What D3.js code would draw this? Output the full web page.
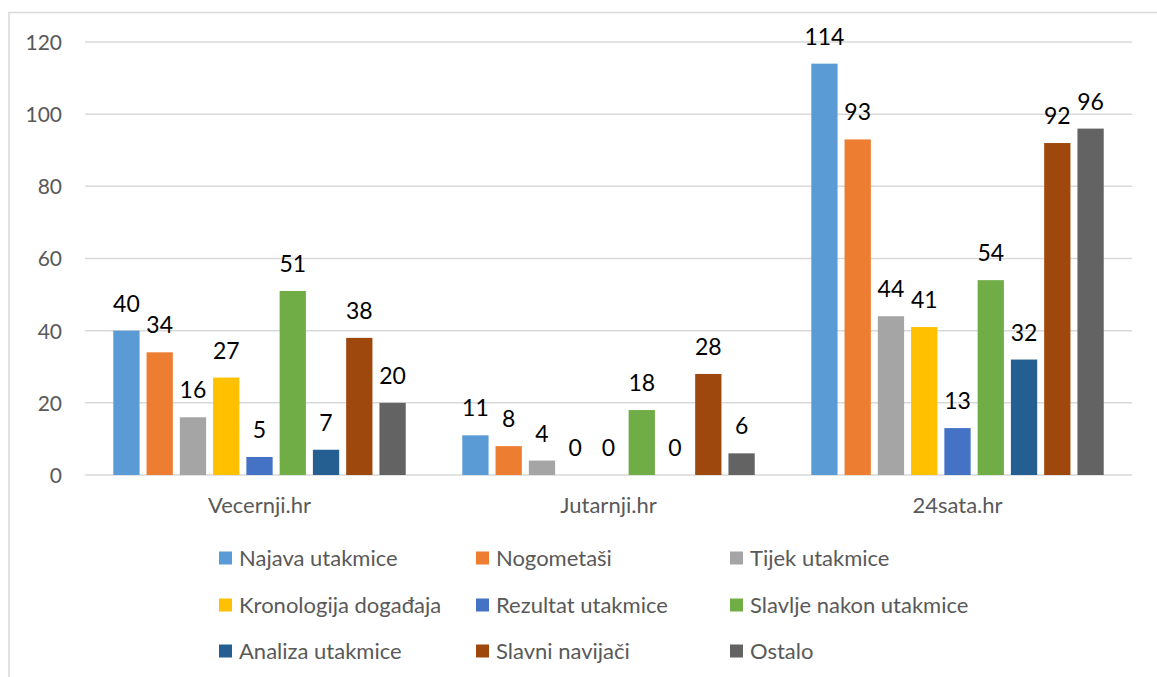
<!DOCTYPE html>
<html>
<head>
<meta charset="utf-8">
<script src="https://cdn.jsdelivr.net/npm/d3@7"></script>
<style>
  html, body { margin: 0; padding: 0; background: #fff; }
  svg { display: block; }
  text { font-family: Lato, "Noto Sans", sans-serif; }
</style>
</head>
<body>
<svg id="chart" width="1157" height="677"></svg>
<script>
const categories = ["Vecernji.hr", "Jutarnji.hr", "24sata.hr"];
const seriesNames = ["Najava utakmice", "Nogometaši", "Tijek utakmice", "Kronologija događaja",
  "Rezultat utakmice", "Slavlje nakon utakmice", "Analiza utakmice", "Slavni navijači", "Ostalo"];
const najava = [40, 11, 114];
const nogometasi = [34, 8, 93];
const tijek = [16, 4, 44];
const kronologija = [27, 0, 41];
const rezultat = [5, 0, 13];
const slavlje = [51, 18, 54];
const analiza = [7, 0, 32];
const navijaci = [38, 28, 92];
const ostalo = [20, 6, 96];
const seriesValues = [najava, nogometasi, tijek, kronologija, rezultat, slavlje, analiza, navijaci, ostalo];
const colors = ["#5B9BD5", "#ED7D31", "#A5A5A5", "#FFC000", "#4472C4", "#70AD47", "#255E91", "#9E480E", "#636363"];
const yTicks = [0, 20, 40, 60, 80, 100, 120];

const svg = d3.select("#chart");

// chart area border
svg.append("rect")
  .attr("x", 9).attr("y", 12.5).attr("width", 1300).attr("height", 800)
  .attr("fill", "none").attr("stroke", "#d9d9d9").attr("stroke-width", 1.5);

const plot = { left: 85, right: 1132, top: 42, bottom: 475 };

const y = d3.scaleLinear().domain([0, 120]).range([plot.bottom, plot.top]);
const x0 = d3.scaleBand().domain(categories).range([plot.left, plot.right]).padding(0);
const x1 = d3.scaleBand().domain(seriesNames).range([0, x0.bandwidth()])
  .paddingInner(0.21).paddingOuter(0.85);

// gridlines
svg.append("g").selectAll("line").data(yTicks).join("line")
  .attr("x1", plot.left).attr("x2", plot.right)
  .attr("y1", d => y(d)).attr("y2", d => y(d))
  .attr("stroke", "#d9d9d9").attr("stroke-width", 1.5);

// y axis labels
const yAxis = d3.axisLeft(y).tickValues(yTicks).tickSize(0).tickPadding(0);
const yg = svg.append("g").attr("transform", `translate(62,0)`).call(yAxis);
yg.select(".domain").remove();
yg.selectAll("text").attr("font-size", 21).attr("fill", "#595959")
  .attr("font-family", "Lato, sans-serif").attr("dy", "0.35em");

// category labels
const xAxis = d3.axisBottom(x0).tickSize(0).tickPadding(0);
const xg = svg.append("g").attr("transform", `translate(0,${plot.bottom})`).call(xAxis);
xg.select(".domain").remove();
xg.selectAll("text").attr("font-size", 22).attr("fill", "#595959")
  .attr("font-family", "Lato, sans-serif").attr("dy", null).attr("y", 38);

// bars
const rows = [];
categories.forEach((c, ci) => {
  seriesNames.forEach((s, si) => rows.push({ cat: c, ser: s, si, v: seriesValues[si][ci] }));
});

svg.append("g").selectAll("rect").data(rows).join("rect")
  .attr("x", d => x0(d.cat) + x1(d.ser))
  .attr("y", d => y(d.v))
  .attr("width", x1.bandwidth())
  .attr("height", d => y(0) - y(d.v))
  .attr("fill", d => colors[d.si]);

// data labels
svg.append("g").selectAll("text").data(rows).join("text")
  .attr("x", d => x0(d.cat) + x1(d.ser) + x1.bandwidth() / 2)
  .attr("y", d => y(d.v) - 19)
  .attr("text-anchor", "middle")
  .attr("font-size", 23)
  .attr("fill", "#000")
  .text(d => d.v);

// legend
const legendCols = [219, 476, 730];
const legendRows = [558, 605, 651];
const lg = svg.append("g");
seriesNames.forEach((s, i) => {
  const cx = legendCols[i % 3], cy = legendRows[Math.floor(i / 3)];
  lg.append("rect").attr("x", cx).attr("y", cy - 6.5).attr("width", 13).attr("height", 13)
    .attr("fill", colors[i]);
  lg.append("text").attr("x", cx + 20).attr("y", cy).attr("dy", "0.35em")
    .attr("font-size", 22).attr("fill", "#595959").text(s);
});
</script>
</body>
</html>
